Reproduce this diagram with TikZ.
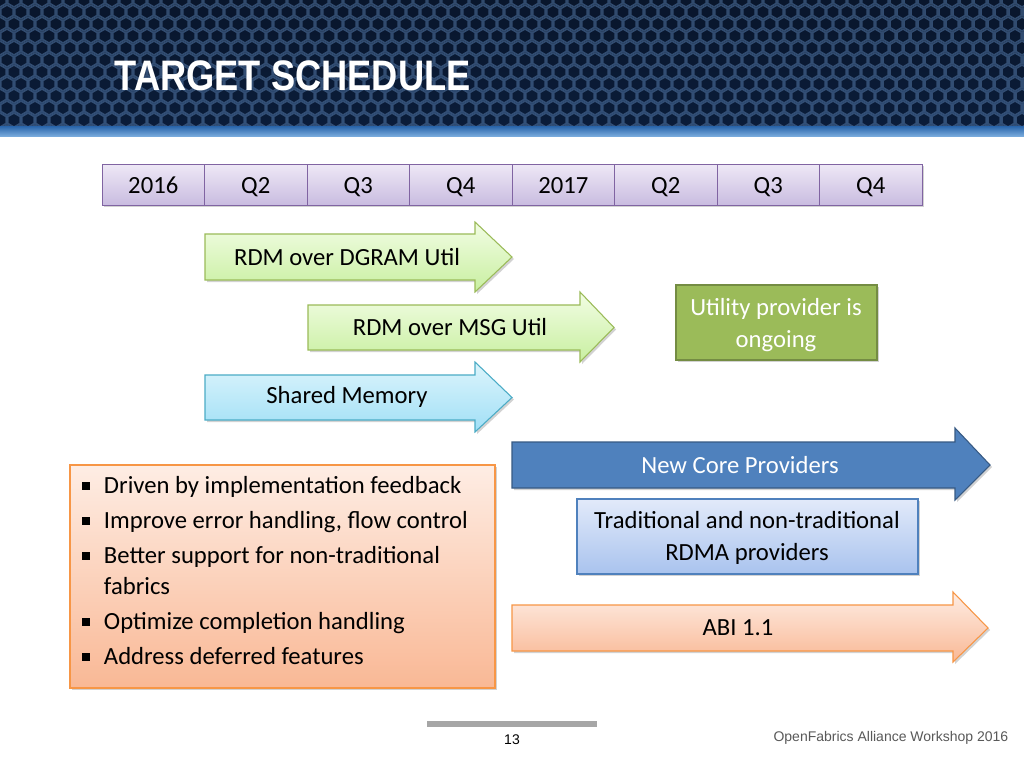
\documentclass[tikz,border=0pt]{standalone}
\usepackage{fontspec}
\setmainfont{Carlito}
\newfontfamily\arialf{Liberation Sans}
\usetikzlibrary{shadows,calc}
\definecolor{lavA}{HTML}{EEE8F6}\definecolor{lavB}{HTML}{C9BCE0}\definecolor{lavD}{HTML}{8064A2}
\definecolor{grA}{HTML}{F2FDE4}\definecolor{grB}{HTML}{C8EFA0}\definecolor{grD}{HTML}{9BBB59}
\definecolor{blA}{HTML}{DDF5FC}\definecolor{blB}{HTML}{A0DFF6}\definecolor{blD}{HTML}{4BACC6}
\definecolor{pcA}{HTML}{FEEDE4}\definecolor{pcB}{HTML}{F9B895}\definecolor{pcD}{HTML}{F79646}
\definecolor{tbA}{HTML}{E2EAFA}\definecolor{tbB}{HTML}{A9C3EE}\definecolor{core}{HTML}{4F81BD}
\definecolor{hexL}{HTML}{3C5A82}\definecolor{hexF}{HTML}{0A1932}\definecolor{hdA}{HTML}{050A14}\definecolor{hdB}{HTML}{0F2D5A}
\definecolor{stA}{HTML}{2864AA}\definecolor{stB}{HTML}{78AADC}
\tikzset{
 x=0.75pt,y=-0.75pt,
 every node/.style={font=\fontsize{18.5}{22}\selectfont},
 sh/.style={drop shadow={shadow xshift=1.5pt,shadow yshift=-1.5pt,opacity=0.35}},
 yr/.style={draw=lavD,line width=0.6pt,top color=lavA,bottom color=lavB,sh},
 gra/.style={draw=grD,line width=0.8pt,top color=grA,bottom color=grB,sh},
 bla/.style={draw=blD,line width=0.8pt,top color=blA,bottom color=blB,sh},
 pca/.style={draw=pcD,line width=0.8pt,top color=pcA,bottom color=pcB,sh},
 corea/.style={draw=core!70!black,line width=0.8pt,fill=core,sh},
 lbl/.style={inner sep=0pt,align=center},
}
\newcommand{\arrowshape}[9]{% style, x0, x1, xtip, ytop, ybot, headtop, headbot, name
 \path[#1] (#2,#5) -- (#3,#5) -- (#3,#7) -- (#4,{(#5+#6)/2}) -- (#3,#8) -- (#3,#6) -- (#2,#6) -- cycle;
 \coordinate (#9) at ({(#2+#3)/2},{(#5+#6)/2});}
\newcommand{\bul}{\rule[0.15em]{0.33em}{0.33em}}
\begin{document}
\begin{tikzpicture}
\useasboundingbox (0,0) rectangle (1024,768);
\fill[white] (0,0) rectangle (1024,768);
% header
\fill[top color=hdA,bottom color=hdB] (0,0) rectangle (1024,128);
\begin{scope}
\clip (0,0) rectangle (1024,128);
\foreach \i in {0,...,75}{\foreach \j in {0,...,12}{
 \pgfmathsetmacro{\cx}{\i*14+mod(\j,2)*7}
 \pgfmathsetmacro{\cy}{\j*12}
 \draw[hexL,line width=1.2pt,fill=hexF,opacity=0.8]
  ($(\cx,\cy)+(90:7)$) -- ($(\cx,\cy)+(30:7)$) -- ($(\cx,\cy)+(-30:7)$) -- ($(\cx,\cy)+(-90:7)$) -- ($(\cx,\cy)+(-150:7)$) -- ($(\cx,\cy)+(150:7)$) -- cycle;
}}
\end{scope}
\fill[top color=stA,bottom color=stB] (0,126) rectangle (1024,136);
\node[anchor=west,text=white,font=\arialf\bfseries\fontsize{32}{34}\selectfont] (title) at (110,76) {\scalebox{0.85}[1]{TARGET SCHEDULE}};
% timeline
\foreach \t [count=\k from 0] in {2016,Q2,Q3,Q4,2017,Q2,Q3,Q4}{
 \pgfmathsetmacro{\xa}{102+\k*102.5}
 \draw[yr] (\xa,164) rectangle ++(102.5,41);
 \node[lbl,anchor=base] (y\k) at (\xa+51.25,193) {\t};
}
% arrows
\arrowshape{gra}{205}{475}{512}{234}{280}{222}{292}{a1}
\node[lbl] (n1) at (347,257) {RDM over DGRAM Util};
\arrowshape{gra}{308}{580}{614}{305}{350}{292}{362}{a2}
\node[lbl] (n2) at (450,327) {RDM over MSG Util};
\arrowshape{bla}{205}{475}{512}{375}{420}{362}{432}{a3}
\node[lbl] (n3) at (347,397) {Shared Memory};
\draw[fill=grD,draw=grD!75!black,line width=0.8pt,sh] (676,285) rectangle (877,360);
\node[lbl,text=white,font=\fontsize{18.5}{23.5}\selectfont] (u) at (776,325) {Utility provider is\\ongoing};
\arrowshape{corea}{512}{955}{990}{442}{488}{428}{500}{a4}
\node[lbl,text=white] (n4) at (740,465) {New Core Providers};
\draw[draw=core,line width=0.8pt,top color=tbA,bottom color=tbB,sh] (577,499) rectangle (918,574);
\node[lbl,font=\fontsize{18.5}{23.5}\selectfont] (tr) at (747,538) {Traditional and non-traditional\\RDMA providers};
\arrowshape{pca}{512}{953}{988}{605}{651}{592}{662}{a5}
\node[lbl] (n5) at (738,628) {ABI 1.1};
% bullets box
\draw[pca] (70,465) rectangle (495,688);
\node[anchor=north west,inner sep=0pt,align=left,font=\fontsize{18.5}{26.3}\selectfont] (bl) at (82,476) {%
\bul\hspace{0.55em}Driven by implementation feedback\\
\bul\hspace{0.55em}Improve error handling, flow control\\
\bul\hspace{0.55em}Better support for non-traditional\\[-3pt]
\hspace{0.88em}fabrics\\
\bul\hspace{0.55em}Optimize completion handling\\
\bul\hspace{0.55em}Address deferred features};
% footer
\draw[black!35,line width=4pt] (427,724) -- (597,724);
\node[font=\arialf\fontsize{10.5}{12}\selectfont] (pg) at (512,740) {13};
\node[anchor=east,text=black!65,font=\arialf\fontsize{10.5}{12}\selectfont] (ft) at (1013,738) {OpenFabrics Alliance Workshop 2016};
\end{tikzpicture}
\end{document}
